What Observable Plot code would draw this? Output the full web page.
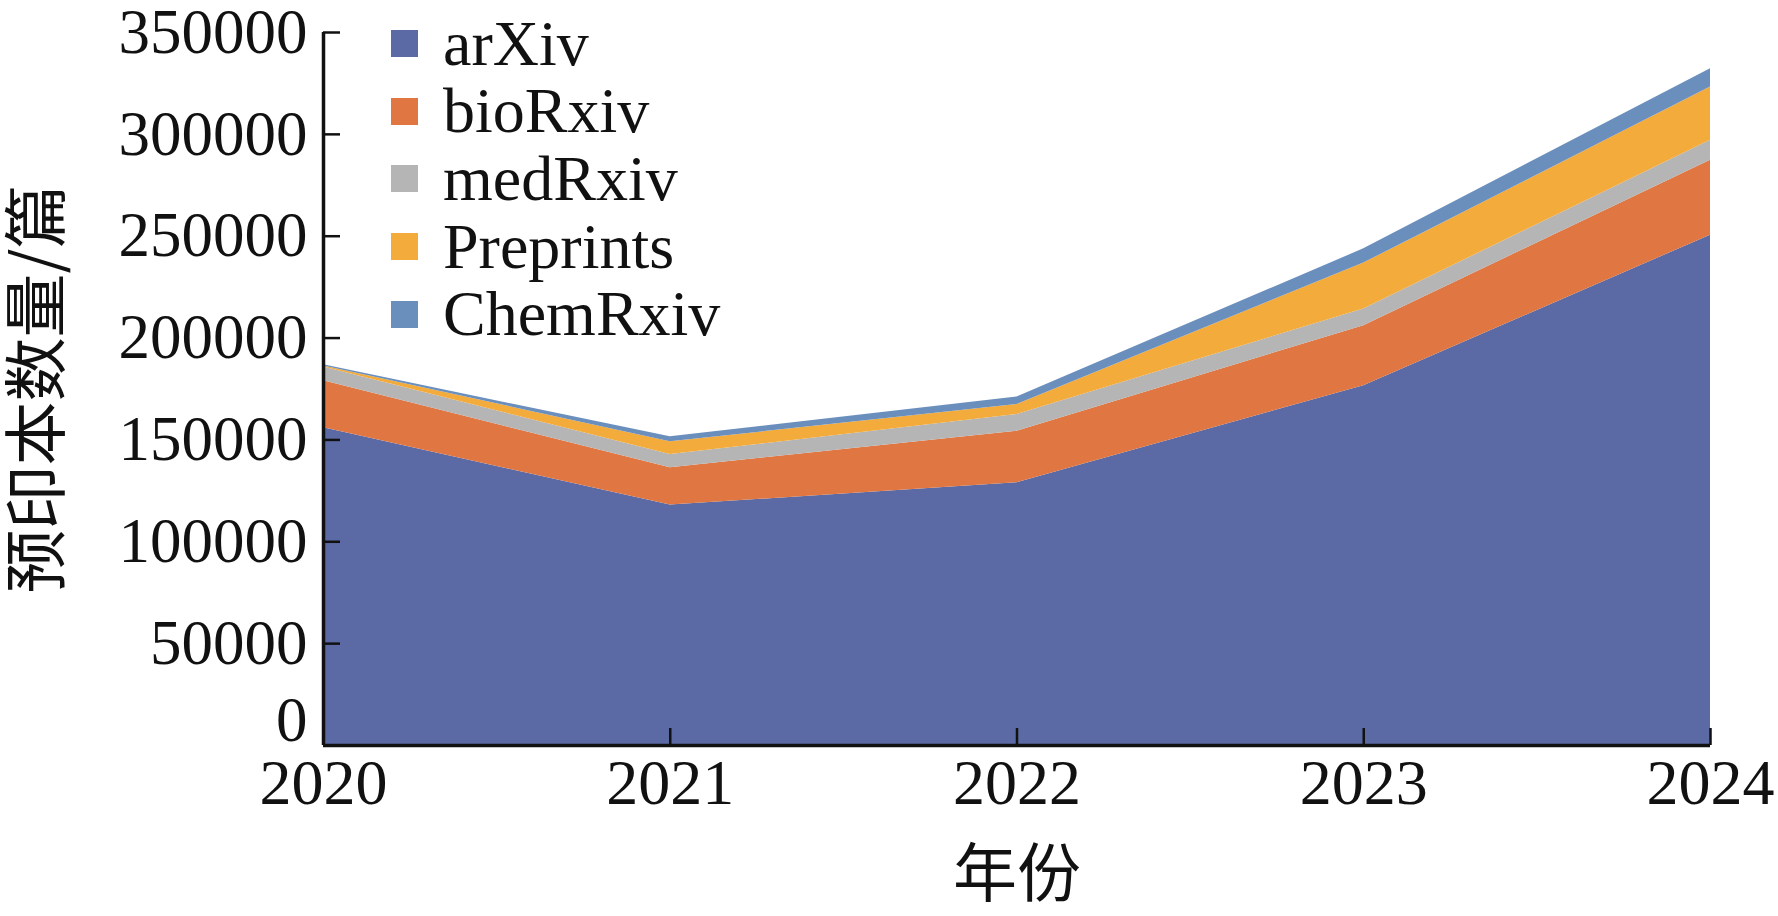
<!DOCTYPE html>
<html>
<head>
<meta charset="utf-8">
<script src="https://cdn.jsdelivr.net/npm/d3@7"></script>
<script src="https://cdn.jsdelivr.net/npm/@observablehq/plot@0.6"></script>
<style>
  html, body { margin: 0; padding: 0; background: #fff; }
  #wrap { position: relative; width: 1778px; height: 916px; }
  #legend { position: absolute; left: 391px; top: 10px; font-family: "Liberation Serif", "Times New Roman", serif; font-size: 64px; color: #111; }
  #legend .row { display: flex; align-items: center; height: 67.6px; }
  #legend .sw { width: 27px; height: 27px; margin-right: 25px; }
</style>
</head>
<body>
<div id="wrap"></div>
<script>
const years = [2020, 2021, 2022, 2023, 2024];
const sources = ["arXiv", "bioRxiv", "medRxiv", "Preprints", "ChemRxiv"];
const arXiv     = [156000, 118000, 129000, 176600, 250500];
const bioRxiv   = [23000, 18300, 25300, 29500, 36800];
const medRxiv   = [6800, 6500, 8200, 8200, 9800];
const Preprints = [500, 6300, 4900, 22500, 26100];
const ChemRxiv  = [600, 2400, 3700, 7000, 9000];
const colors = ["#5b6aa5", "#e07642", "#b5b5b5", "#f3ab3c", "#6b8fbd"];
const yTicks = [0, 50000, 100000, 150000, 200000, 250000, 300000, 350000];

const seriesValues = {arXiv, bioRxiv, medRxiv, Preprints, ChemRxiv};
const data = sources.flatMap(s => years.map((yr, i) => ({year: yr, source: s, value: seriesValues[s][i]})));

const serif = "'Liberation Serif', 'Times New Roman', serif";
const cjk = "'Noto Sans CJK SC', sans-serif";

const chart = Plot.plot({
  width: 1778,
  height: 916,
  marginLeft: 323,
  marginRight: 68,
  marginTop: 32,
  marginBottom: 171,
  style: {fontFamily: serif, fontSize: "64px", color: "#111", background: "#fff", overflow: "visible"},
  x: {domain: [2020, 2024]},
  y: {domain: [0, 350000]},
  color: {domain: sources, range: colors},
  marks: [
    Plot.areaY(data, {x: "year", y: "value", fill: "source", order: sources}),
    Plot.axisY(yTicks.filter(d => d > 0), {tickSize: -17, tickPadding: 33, strokeWidth: 2.5, tickFormat: d => String(d), label: null, fontSize: 63}),
    Plot.axisY([0], {tickSize: 0, tickPadding: 16, dy: -25, tickFormat: d => String(d), label: null, fontSize: 63}),
    Plot.axisY({ticks: [], label: "预印本数量/篇", labelAnchor: "center", labelArrow: "none", labelOffset: 310, fontFamily: cjk, fontSize: 64, tickSize: 0}),
    Plot.axisX(years, {tickSize: -17, tickPadding: 30, strokeWidth: 2.5, tickFormat: d => String(d), label: null, fontSize: 64}),
    Plot.axisX({ticks: [], label: "年份", labelAnchor: "center", labelOffset: 150, labelArrow: "none", fontFamily: cjk, fontSize: 64, tickSize: 0}),
    Plot.ruleX([2020], {stroke: "#111", strokeWidth: 3.5}),
    Plot.ruleY([0], {stroke: "#111", strokeWidth: 3.5})
  ]
});

const wrap = document.getElementById("wrap");
wrap.appendChild(chart);

const colorScale = chart.scale("color");
const legend = document.createElement("div");
legend.id = "legend";
for (const s of sources) {
  const row = document.createElement("div");
  row.className = "row";
  const sw = document.createElement("div");
  sw.className = "sw";
  sw.style.background = colorScale.apply(s);
  const label = document.createElement("span");
  label.textContent = s;
  row.appendChild(sw);
  row.appendChild(label);
  legend.appendChild(row);
}
wrap.appendChild(legend);
</script>
</body>
</html>
